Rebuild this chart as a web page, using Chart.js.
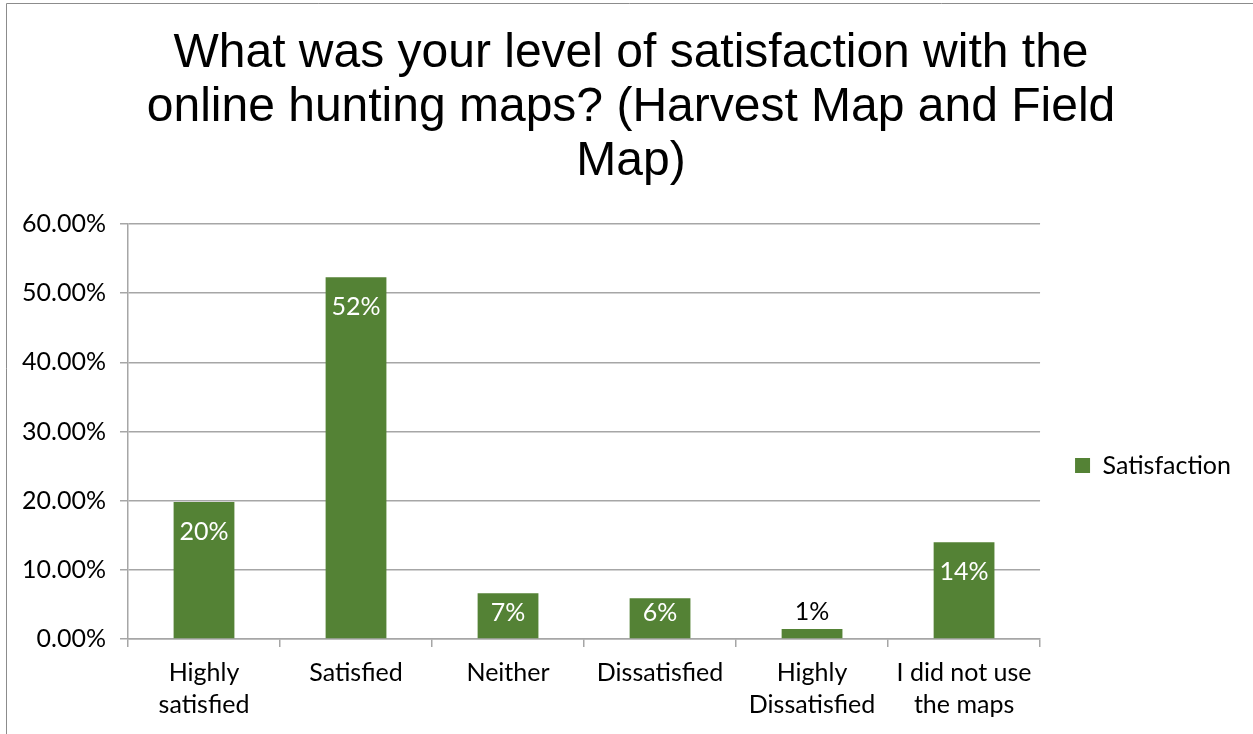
<!DOCTYPE html>
<html>
<head>
<meta charset="utf-8">
<script src="https://cdn.jsdelivr.net/npm/chart.js@4/dist/chart.umd.min.js"></script>
<style>
  html, body { margin: 0; padding: 0; background: #fff; }
  #wrap { position: relative; width: 1253px; height: 734px; }
</style>
</head>
<body>
<div id="wrap"><canvas id="c" width="1253" height="734"></canvas></div>
<script>
const titleLines = ['What was your level of satisfaction with the', 'online hunting maps? (Harvest Map and Field', 'Map)'];
const categories = [['Highly', 'satisfied'], 'Satisfied', 'Neither', 'Dissatisfied', ['Highly', 'Dissatisfied'], ['I did not use', 'the maps']];
const seriesName = 'Satisfaction';
const satisfaction = [19.8, 52.3, 6.6, 5.9, 1.45, 14.0];
const yTicks = [0, 10, 20, 30, 40, 50, 60];

const GREEN = '#548235';
const GRID = '#a6a6a6';
const LABEL_FONT = 'Lato';

const frame = {
  id: 'frame',
  beforeDraw(chart) {
    const ctx = chart.ctx;
    ctx.save();
    ctx.fillStyle = '#fff';
    ctx.fillRect(0, 0, chart.width, chart.height);
    ctx.strokeStyle = '#8c8c8c';
    ctx.lineWidth = 1;
    ctx.beginPath();
    ctx.moveTo(6.5, chart.height);
    ctx.lineTo(6.5, 3.5);
    ctx.lineTo(chart.width, 3.5);
    ctx.stroke();
    ctx.restore();
  }
};

const dataLabels = {
  id: 'dataLabels',
  afterDatasetsDraw(chart) {
    const ctx = chart.ctx;
    const meta = chart.getDatasetMeta(0);
    const base = chart.scales.y.getPixelForValue(0);
    ctx.save();
    ctx.font = '25px ' + LABEL_FONT;
    ctx.textAlign = 'center';
    ctx.textBaseline = 'middle';
    meta.data.forEach((bar, i) => {
      const v = chart.data.datasets[0].data[i];
      const txt = Math.round(v) + '%';
      const h = base - bar.y;
      if (h < 30) {
        ctx.fillStyle = '#000';
        ctx.fillText(txt, bar.x, bar.y - 17);
      } else {
        ctx.fillStyle = '#fff';
        ctx.fillText(txt, bar.x, Math.min(bar.y + 30, base - 26));
      }
    });
    ctx.restore();
  }
};

new Chart(document.getElementById('c'), {
  type: 'bar',
  data: {
    labels: categories,
    datasets: [{
      label: seriesName,
      data: satisfaction,
      backgroundColor: GREEN,
      borderWidth: 0,
      categoryPercentage: 1,
      barPercentage: 0.4
    }]
  },
  options: {
    responsive: false,
    animation: false,
    devicePixelRatio: 1,
    layout: { padding: { left: 21, right: 12, top: 0, bottom: 0 } },
    plugins: {
      title: {
        display: true,
        text: titleLines,
        color: '#000',
        font: { family: 'Liberation Sans', size: 48, weight: 'normal', lineHeight: 54 / 48 },
        padding: { top: 27, bottom: 35 }
      },
      legend: {
        display: true,
        position: 'right',
        fullSize: false,
        align: 'center',
        title: { display: true, text: ' ', font: { size: 2, lineHeight: 1 }, padding: { top: 0, bottom: 66 } },
        labels: {
          color: '#000',
          font: { family: LABEL_FONT, size: 25 },
          boxWidth: 15,
          boxHeight: 15,
          padding: 35
        }
      },
      tooltip: { enabled: false }
    },
    scales: {
      x: {
        afterFit(scale) { scale.height = 95; },
        grid: { display: true, drawOnChartArea: false, drawTicks: true, tickLength: 8, color: GRID, lineWidth: 1.5 },
        border: { display: true, color: GRID, width: 1.5 },
        ticks: {
          color: '#000',
          padding: 10,
          maxRotation: 0,
          autoSkip: false,
          font: { family: LABEL_FONT, size: 25, lineHeight: 32 / 25 }
        }
      },
      y: {
        min: 0,
        max: 60,
        afterFit(scale) { scale.width = 107; },
        afterBuildTicks(scale) { scale.ticks = yTicks.map(v => ({ value: v })); },
        grid: { color: GRID, lineWidth: 1.5, drawTicks: true, tickLength: 8 },
        border: { display: true, color: GRID, width: 1.5 },
        ticks: {
          color: '#000',
          padding: 14,
          font: { family: LABEL_FONT, size: 25 },
          callback: (v) => Number(v).toFixed(2) + '%'
        }
      }
    }
  },
  plugins: [frame, dataLabels]
});
</script>
</body>
</html>
